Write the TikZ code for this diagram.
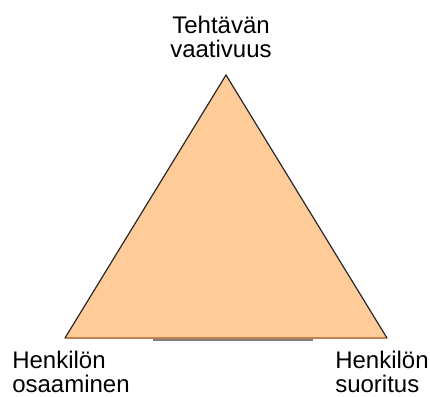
\documentclass[tikz,border=0pt]{standalone}
\usepackage{fontspec}
\setmainfont{Liberation Sans}
\definecolor{peach}{RGB}{255,204,153}
\definecolor{edgedark}{RGB}{40,40,40}
\definecolor{edgebottom}{RGB}{190,130,80}
\definecolor{shadowgray}{RGB}{128,128,128}
\begin{document}
\begin{tikzpicture}[x=0.75pt,y=-0.75pt,
  lbl/.style={font=\fontsize{18}{18}\selectfont, inner sep=0pt},
  side/.style={draw=edgedark, line width=0.9pt, line cap=round},
  base/.style={draw=edgebottom, line width=0.9pt}]
\useasboundingbox (0,0) rectangle (430,397);
\coordinate (A) at (226,75);
\coordinate (L) at (65,338);
\coordinate (R) at (387,338);
\coordinate (S1) at (153,340);
\coordinate (S2) at (313,340);
\draw[shadowgray, line width=1.5pt] (S1) -- (S2);
\fill[peach] (A) -- (L) -- (R) -- cycle;
\draw[base] (L) -- (R);
\draw[side] (L) -- (A) -- (R);
\node[lbl, anchor=base, align=center] (top) at (221,57) {Tehtävän\\vaativuus};
\node[lbl, anchor=base west, align=left] (left) at (12,392) {Henkilön\\osaaminen};
\node[lbl, anchor=base west, align=left] (right) at (335,392) {Henkilön\\suoritus};
\end{tikzpicture}
\end{document}
